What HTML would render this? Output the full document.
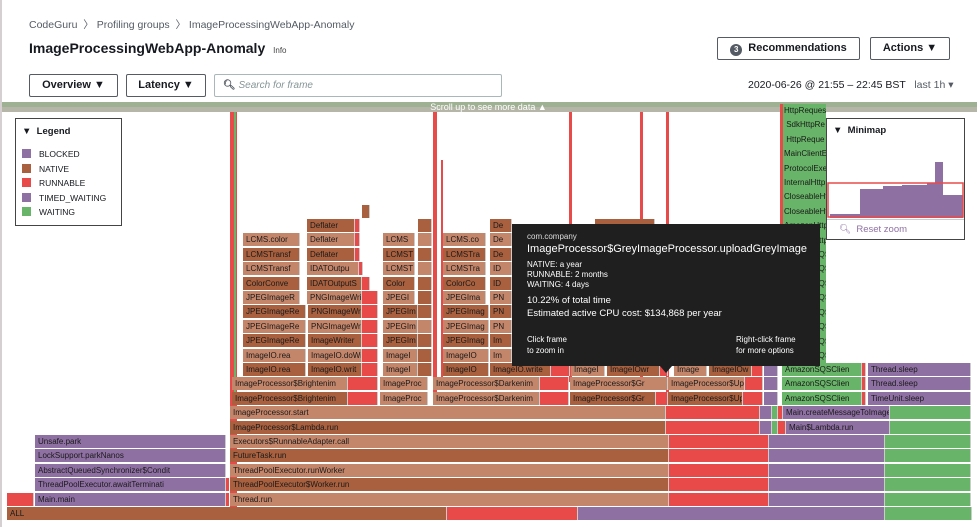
<!DOCTYPE html>
<html><head><meta charset="utf-8"><style>
*{margin:0;padding:0;box-sizing:border-box}
body{width:977px;height:527px;background:#fff;position:relative;overflow:hidden;font-family:"Liberation Sans",sans-serif;color:#16191f}
.a{position:absolute}
.f{position:absolute;height:13px;font-size:8px;line-height:13px;padding-left:3px;white-space:nowrap;overflow:hidden;color:#1a1a1a;border-right:1px solid #ccc}
.n{background:#a8603f}.l{background:#c4866a}.r{background:#e84a4a}.p{background:#8f70a3}.g{background:#68b468}
.btn{position:absolute;border:1px solid #545b64;border-radius:2px;font-size:11px;font-weight:bold;text-align:center;line-height:21px;height:23px;color:#16191f}
.sq{display:inline-block;width:9px;height:9px;margin-right:8px;vertical-align:-1px}
</style></head><body>
<div class="a" style="left:0;top:0;width:2px;height:527px;background:#d5cfd2"></div>
<div class="a" style="left:29px;top:17px;font-size:10.5px;color:#545b64">CodeGuru &nbsp;〉 Profiling groups &nbsp;〉 ImageProcessingWebApp-Anomaly</div>
<div class="a" style="left:29px;top:40px;font-size:14px;font-weight:bold">ImageProcessingWebApp-Anomaly <span style="font-size:8px;color:#444;font-weight:normal;margin-left:4px">Info</span></div>
<div class="btn" style="left:717px;top:37px;width:143px"><span style="display:inline-block;width:12px;height:12px;border-radius:50%;background:#545b64;color:#fff;font-size:8px;line-height:12px;margin-right:6px;vertical-align:-1px">3</span>Recommendations</div>
<div class="btn" style="left:870px;top:37px;width:80px">Actions ▼</div>
<div class="btn" style="left:29px;top:74px;width:89px">Overview ▼</div>
<div class="btn" style="left:126px;top:74px;width:80px">Latency ▼</div>
<div class="a" style="left:214px;top:74px;width:288px;height:23px;border:1px solid #aab7b8;border-radius:2px;font-size:10px;line-height:21px;padding-left:8px;color:#879596"><b style="color:#545b64">🔍︎</b> <i>Search for frame</i></div>
<div class="a" style="left:748px;top:79px;font-size:10.5px;color:#16191f">2020-06-26 @ 21:55 – 22:45 BST &nbsp; <span style="color:#545b64">last 1h ▾</span></div>

<div class="a" style="left:2px;top:102px;width:975px;height:10px;background:#b5b6a8"></div>
<div class="a" style="left:2px;top:102px;width:975px;height:5px;background:#8fae85;opacity:.6"></div>
<div class="a" style="left:0;top:101px;width:977px;text-align:center;font-size:9px;color:#fff;line-height:12px">Scroll up to see more data ▲</div>

<div class="a r" style="left:230px;top:112px;width:7px;height:395px"></div>
<div class="a g" style="left:234px;top:112px;width:2px;height:280px"></div>
<div class="a r" style="left:433px;top:112px;width:4px;height:280px"></div>
<div class="a r" style="left:441px;top:160px;width:2px;height:230px"></div>
<div class="a r" style="left:569px;top:112px;width:3px;height:270px"></div>
<div class="a r" style="left:640px;top:112px;width:3px;height:270px"></div>
<div class="a r" style="left:666px;top:112px;width:3px;height:290px"></div>

<div class="f n" style="left:7px;top:507px;width:440px">ALL</div>
<div class="f r" style="left:447px;top:507px;width:131px"></div>
<div class="f p" style="left:578px;top:507px;width:307px"></div>
<div class="f g" style="left:885px;top:507px;width:87px"></div>

<div class="f r" style="left:7px;top:493px;width:27px"></div>
<div class="f p" style="left:35px;top:493px;width:191px">Main.main</div>
<div class="f p" style="left:35px;top:478px;width:191px">ThreadPoolExecutor.awaitTerminati</div>
<div class="f p" style="left:35px;top:464px;width:191px">AbstractQueuedSynchronizer$Condit</div>
<div class="f p" style="left:35px;top:449px;width:191px">LockSupport.parkNanos</div>
<div class="f p" style="left:35px;top:435px;width:191px">Unsafe.park</div>
<div class="f r" style="left:226px;top:493px;width:3px;border:0"></div>
<div class="f r" style="left:226px;top:478px;width:3px;border:0"></div>

<div class="f l" style="left:230px;top:493px;width:439px">Thread.run</div>
<div class="f n" style="left:230px;top:478px;width:439px">ThreadPoolExecutor$Worker.run</div>
<div class="f l" style="left:230px;top:464px;width:439px">ThreadPoolExecutor.runWorker</div>
<div class="f n" style="left:230px;top:449px;width:439px">FutureTask.run</div>
<div class="f l" style="left:230px;top:435px;width:439px">Executors$RunnableAdapter.call</div>
<div class="f r" style="left:669px;top:493px;width:100px"></div><div class="f p" style="left:769px;top:493px;width:116px"></div><div class="f g" style="left:885px;top:493px;width:86px"></div>
<div class="f r" style="left:669px;top:478px;width:100px"></div><div class="f p" style="left:769px;top:478px;width:116px"></div><div class="f g" style="left:885px;top:478px;width:86px"></div>
<div class="f r" style="left:669px;top:464px;width:100px"></div><div class="f p" style="left:769px;top:464px;width:116px"></div><div class="f g" style="left:885px;top:464px;width:86px"></div>
<div class="f r" style="left:669px;top:449px;width:100px"></div><div class="f p" style="left:769px;top:449px;width:116px"></div><div class="f g" style="left:885px;top:449px;width:86px"></div>
<div class="f r" style="left:669px;top:435px;width:100px"></div><div class="f p" style="left:769px;top:435px;width:116px"></div><div class="f g" style="left:885px;top:435px;width:86px"></div>

<div class="f n" style="left:230px;top:421px;width:436px">ImageProcessor$Lambda.run</div>
<div class="f l" style="left:230px;top:406px;width:436px">ImageProcessor.start</div>
<div class="f r" style="left:666px;top:421px;width:94px"></div><div class="f p" style="left:760px;top:421px;width:12px"></div><div class="f g" style="left:772px;top:421px;width:6px"></div><div class="f r" style="left:778px;top:421px;width:8px"></div><div class="f p" style="left:786px;top:421px;width:104px">Main$Lambda.run</div><div class="f g" style="left:890px;top:421px;width:81px"></div>
<div class="f r" style="left:666px;top:406px;width:94px"></div><div class="f p" style="left:760px;top:406px;width:12px"></div><div class="f g" style="left:772px;top:406px;width:6px"></div><div class="f r" style="left:778px;top:406px;width:5px"></div><div class="f p" style="left:783px;top:406px;width:107px">Main.createMessageToImageQueue</div><div class="f g" style="left:890px;top:406px;width:81px"></div>

<div class="f n" style="left:232px;top:392px;width:116px">ImageProcessor$Brightenim</div><div class="f r" style="left:348px;top:392px;width:30px"></div>
<div class="f l" style="left:380px;top:392px;width:48px">ImageProc</div>
<div class="f l" style="left:433px;top:392px;width:107px">ImageProcessor$Darkenim</div><div class="f r" style="left:540px;top:392px;width:29px"></div>
<div class="f n" style="left:570px;top:392px;width:86px">ImageProcessor$Gr</div><div class="f r" style="left:656px;top:392px;width:12px"></div>
<div class="f n" style="left:668px;top:392px;width:75px">ImageProcessor$Up</div><div class="f r" style="left:743px;top:392px;width:20px"></div>
<div class="f p" style="left:764px;top:392px;width:14px"></div>
<div class="f g" style="left:782px;top:392px;width:80px">AmazonSQSClien</div><div class="f r" style="left:862px;top:392px;width:4px"></div>
<div class="f p" style="left:868px;top:392px;width:103px">TimeUnit.sleep</div>

<div class="f l" style="left:232px;top:377px;width:116px">ImageProcessor$Brightenim</div><div class="f r" style="left:348px;top:377px;width:30px"></div>
<div class="f l" style="left:380px;top:377px;width:48px">ImageProc</div>
<div class="f l" style="left:433px;top:377px;width:107px">ImageProcessor$Darkenim</div><div class="f r" style="left:540px;top:377px;width:29px"></div>
<div class="f l" style="left:570px;top:377px;width:98px">ImageProcessor$Gr</div>
<div class="f l" style="left:668px;top:377px;width:77px">ImageProcessor$Up</div><div class="f r" style="left:745px;top:377px;width:18px"></div>
<div class="f p" style="left:764px;top:377px;width:14px"></div>
<div class="f g" style="left:782px;top:377px;width:80px">AmazonSQSClien</div><div class="f r" style="left:862px;top:377px;width:4px"></div>
<div class="f p" style="left:868px;top:377px;width:103px">Thread.sleep</div>

<div class="f n" style="left:243px;top:363px;width:63px">ImageIO.rea</div><div class="f n" style="left:308px;top:363px;width:54px">ImageIO.writ</div><div class="f r" style="left:362px;top:363px;width:16px"></div>
<div class="f l" style="left:383px;top:363px;width:35px">ImageI</div><div class="f n" style="left:418px;top:363px;width:14px"></div>
<div class="f n" style="left:443px;top:363px;width:46px">ImageIO</div><div class="f n" style="left:490px;top:363px;width:61px">ImageIO.write</div><div class="f r" style="left:551px;top:363px;width:19px"></div>
<div class="f l" style="left:571px;top:363px;width:34px">ImageI</div><div class="f n" style="left:607px;top:363px;width:53px">ImageIOwr</div><div class="f r" style="left:660px;top:363px;width:8px"></div>
<div class="f l" style="left:674px;top:363px;width:33px">Image</div><div class="f n" style="left:709px;top:363px;width:43px">ImageIOw</div><div class="f r" style="left:752px;top:363px;width:11px"></div>
<div class="f p" style="left:764px;top:363px;width:14px"></div>
<div class="f g" style="left:782px;top:363px;width:80px">AmazonSQSClien</div><div class="f r" style="left:862px;top:363px;width:4px"></div>
<div class="f p" style="left:868px;top:363px;width:103px">Thread.sleep</div>

<div class="f l" style="left:243px;top:349px;width:63px">ImageIO.rea</div><div class="f l" style="left:308px;top:349px;width:54px">ImageIO.doWr</div><div class="f r" style="left:362px;top:349px;width:16px"></div><div class="f l" style="left:383px;top:349px;width:35px">ImageI</div><div class="f n" style="left:418px;top:349px;width:14px"></div><div class="f l" style="left:443px;top:349px;width:46px">ImageIO</div><div class="f l" style="left:490px;top:349px;width:22px">Im</div>
<div class="f n" style="left:243px;top:334px;width:63px">JPEGImageRe</div><div class="f n" style="left:308px;top:334px;width:54px">ImageWriter</div><div class="f r" style="left:362px;top:334px;width:16px"></div><div class="f n" style="left:383px;top:334px;width:35px">JPEGIm</div><div class="f n" style="left:418px;top:334px;width:14px"></div><div class="f n" style="left:443px;top:334px;width:46px">JPEGImag</div><div class="f n" style="left:490px;top:334px;width:22px">Im</div>
<div class="f l" style="left:243px;top:320px;width:63px">JPEGImageRe</div><div class="f l" style="left:308px;top:320px;width:54px">PNGImageWri</div><div class="f r" style="left:362px;top:320px;width:16px"></div><div class="f l" style="left:383px;top:320px;width:35px">JPEGIm</div><div class="f l" style="left:418px;top:320px;width:14px"></div><div class="f l" style="left:443px;top:320px;width:46px">JPEGImag</div><div class="f l" style="left:490px;top:320px;width:22px">PN</div>
<div class="f n" style="left:243px;top:305px;width:63px">JPEGImageRe</div><div class="f n" style="left:308px;top:305px;width:54px">PNGImageWri</div><div class="f r" style="left:362px;top:305px;width:16px"></div><div class="f n" style="left:383px;top:305px;width:35px">JPEGIm</div><div class="f n" style="left:418px;top:305px;width:14px"></div><div class="f n" style="left:443px;top:305px;width:46px">JPEGImag</div><div class="f n" style="left:490px;top:305px;width:22px">PN</div>
<div class="f l" style="left:243px;top:291px;width:57px">JPEGImageR</div><div class="f l" style="left:307px;top:291px;width:55px">PNGImageWrit</div><div class="f r" style="left:362px;top:291px;width:16px"></div><div class="f l" style="left:383px;top:291px;width:32px">JPEGI</div><div class="f n" style="left:418px;top:291px;width:14px"></div><div class="f l" style="left:443px;top:291px;width:43px">JPEGIma</div><div class="f l" style="left:490px;top:291px;width:22px">PN</div>
<div class="f n" style="left:243px;top:277px;width:57px">ColorConve</div><div class="f n" style="left:307px;top:277px;width:55px">IDATOutputS</div><div class="f r" style="left:362px;top:277px;width:8px"></div><div class="f n" style="left:383px;top:277px;width:32px">Color</div><div class="f n" style="left:418px;top:277px;width:14px"></div><div class="f n" style="left:443px;top:277px;width:43px">ColorCo</div><div class="f n" style="left:490px;top:277px;width:22px">ID</div>
<div class="f l" style="left:243px;top:262px;width:57px">LCMSTransf</div><div class="f l" style="left:307px;top:262px;width:52px">IDATOutpu</div><div class="f r" style="left:359px;top:262px;width:4px"></div><div class="f l" style="left:383px;top:262px;width:32px">LCMST</div><div class="f l" style="left:418px;top:262px;width:14px"></div><div class="f l" style="left:443px;top:262px;width:43px">LCMSTra</div><div class="f l" style="left:490px;top:262px;width:22px">ID</div>
<div class="f n" style="left:243px;top:248px;width:57px">LCMSTransf</div><div class="f n" style="left:307px;top:248px;width:48px">Deflater</div><div class="f r" style="left:355px;top:248px;width:5px"></div><div class="f n" style="left:383px;top:248px;width:32px">LCMST</div><div class="f n" style="left:418px;top:248px;width:14px"></div><div class="f n" style="left:443px;top:248px;width:43px">LCMSTra</div><div class="f n" style="left:490px;top:248px;width:22px">De</div>
<div class="f l" style="left:243px;top:233px;width:57px">LCMS.color</div><div class="f l" style="left:307px;top:233px;width:48px">Deflater</div><div class="f r" style="left:355px;top:233px;width:5px"></div><div class="f l" style="left:383px;top:233px;width:32px">LCMS</div><div class="f l" style="left:418px;top:233px;width:14px"></div><div class="f l" style="left:443px;top:233px;width:43px">LCMS.co</div><div class="f l" style="left:490px;top:233px;width:22px">De</div>
<div class="f n" style="left:307px;top:219px;width:48px">Deflater</div><div class="f r" style="left:355px;top:219px;width:5px"></div><div class="f n" style="left:418px;top:219px;width:14px"></div><div class="f n" style="left:490px;top:219px;width:22px">De</div>
<div class="f n" style="left:362px;top:205px;width:8px"></div><div class="f n" style="left:595px;top:219px;width:60px"></div>

<div class="a" style="left:780px;top:104px;width:46px;height:259px;background:#68b468"></div>
<div class="a r" style="left:780px;top:104px;width:3px;height:259px"></div>
<div class="a" style="left:784px;top:104px;width:42px;font-size:8px;line-height:14.4px;color:#1a1a1a;overflow:hidden;white-space:nowrap">HttpRequestExec<br>&nbsp;SdkHttpRe<br>&nbsp;HttpReque<br>MainClientE<br>ProtocolExe<br>InternalHttp<br>CloseableHt<br>CloseableHt<br>AmazonHttp<br>AmazonHttp<br>AmazonSQSClien<br>AmazonSQSClien<br>AmazonSQSClien<br>AmazonSQSClien<br>AmazonSQSClien<br>AmazonSQSClien<br>AmazonSQSClien<br>AmazonSQSClien</div>

<div class="a" style="left:15px;top:118px;width:107px;height:108px;border:1px solid #444;background:#fff;font-size:8.5px;padding:6px 0 0 6px;line-height:14.4px">
<div style="font-weight:bold;font-size:9.5px;margin-bottom:8px">▼ &nbsp;Legend</div>
<div><span class="sq p"></span>BLOCKED</div><div><span class="sq n"></span>NATIVE</div><div><span class="sq r"></span>RUNNABLE</div><div><span class="sq p"></span>TIMED_WAITING</div><div><span class="sq g"></span>WAITING</div></div>

<div class="a" style="left:826px;top:118px;width:139px;height:122px;border:1px solid #444;background:#fff;overflow:hidden">
<div class="a" style="left:6px;top:6px;font-size:9.5px;font-weight:bold">▼ &nbsp;Minimap</div>
<svg class="a" style="left:0;top:40px" width="137" height="60"><path d="M3 57 V55 H33 V30 H56 V27 H75 V26 H100 V24 H108 V3 H116 V36 H136 V59 H3 Z" fill="#8f70a3"/><rect x="1" y="24" width="135" height="34" fill="none" stroke="#e84a4a" stroke-width="1.5"/></svg>
<div class="a" style="left:0;top:100px;width:139px;height:22px;border-top:1px solid #ccc;background:#fff;padding:4px 0 0 12px;font-size:9.5px;color:#8f70a3">🔍︎ &nbsp;Reset zoom</div>
</div>

<div class="a" style="left:512px;top:224px;width:308px;height:142px;background:#1f1f1f;color:#fff;padding:8px 0 0 15px">
<div style="font-size:8px;color:#ddd">com.company</div>
<div style="font-size:11px;margin-top:2px">ImageProcessor$GreyImageProcessor.uploadGreyImage</div>
<div style="font-size:8px;line-height:10px;margin-top:5px">NATIVE: a year<br>RUNNABLE: 2 months<br>WAITING: 4 days</div>
<div style="font-size:9.5px;line-height:12.5px;margin-top:5px">10.22% of total time<br>Estimated active CPU cost: $134,868 per year</div>
<div class="a" style="left:15px;top:110px;font-size:8px;line-height:11px">Click frame<br>to zoom in</div>
<div class="a" style="left:224px;top:110px;font-size:8px;line-height:11px">Right-click frame<br>for more options</div>
</div>
<div class="a" style="left:660px;top:366px;width:0;height:0;border-left:6px solid transparent;border-right:6px solid transparent;border-top:7px solid #1f1f1f"></div>
</body></html>
